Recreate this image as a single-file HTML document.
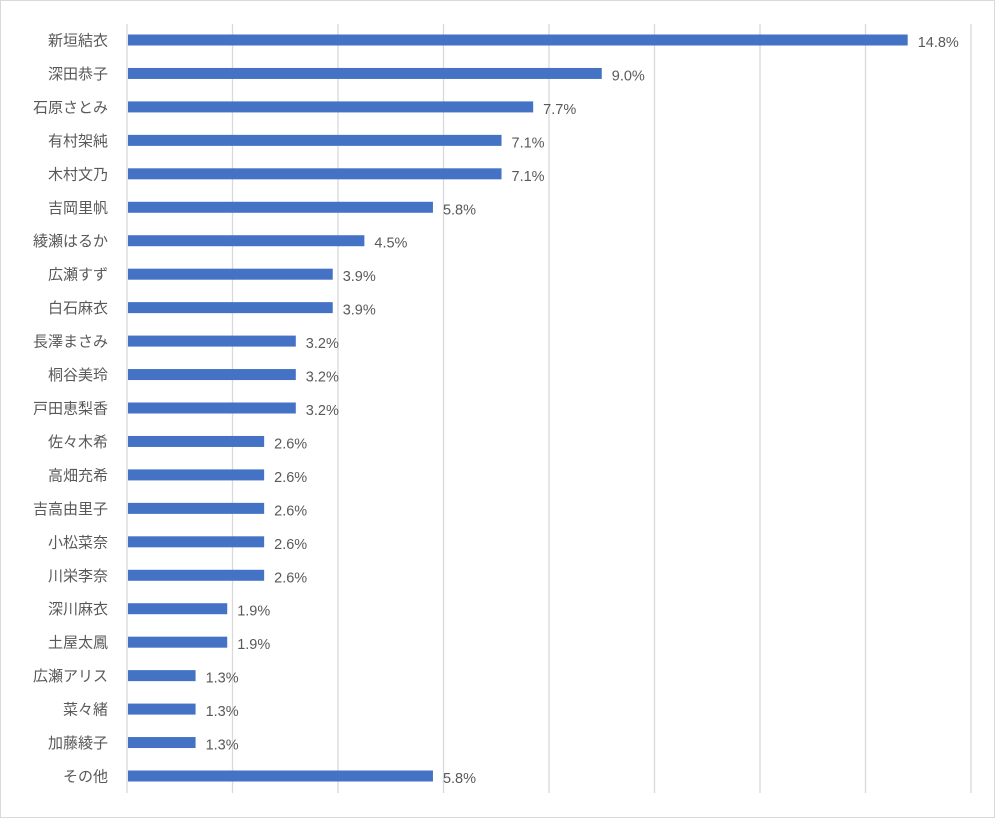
<!DOCTYPE html>
<html><head><meta charset="utf-8"><style>
html,body{margin:0;padding:0;background:#fff}
#wrap{position:relative;width:993px;height:816px;border:1px solid #d9d9d9}
svg text{font-family:"Liberation Sans","Noto Sans CJK JP",sans-serif;fill:#595959}
</style></head><body>
<div id="wrap">
<svg id="chart" width="993" height="816"></svg>
</div>
<script>
const categories=["新垣結衣","深田恭子","石原さとみ","有村架純","木村文乃","吉岡里帆","綾瀬はるか","広瀬すず","白石麻衣","長澤まさみ","桐谷美玲","戸田恵梨香","佐々木希","高畑充希","吉高由里子","小松菜奈","川栄李奈","深川麻衣","土屋太鳳","広瀬アリス","菜々緒","加藤綾子","その他"];
const values=[14.8,9.0,7.7,7.1,7.1,5.8,4.5,3.9,3.9,3.2,3.2,3.2,2.6,2.6,2.6,2.6,2.6,1.9,1.9,1.3,1.3,1.3,5.8];
const ticks=[0,2,4,6,8,10,12,14,16];
const NS="http://www.w3.org/2000/svg";
const svg=document.getElementById('chart');
const x0=126,x1=970,xmax=16,top0=23,bot=792;
const sx=v=>x0+(x1-x0)*v/xmax;
const first=39,last=775;
const step=(last-first)/(categories.length-1);
const sy=i=>first+i*step;
function mk(t,a){const e=document.createElementNS(NS,t);for(const k in a)e.setAttribute(k,a[k]);svg.appendChild(e);return e;}
ticks.forEach(t=>{
  const l=mk('line',{x1:sx(t),x2:sx(t),y1:top0,y2:bot,stroke:'#d9d9d9','stroke-width':1.3});
  
  
});
categories.forEach((c,i)=>{
  const y=sy(i);
  const t=mk('text',{x:107,y:y+5.5,'text-anchor':'end','font-size':15});
  t.textContent=c;
  
  
  const r=mk('rect',{x:sx(0)+1,y:y-5.5,width:sx(values[i])-sx(0)-1,height:11,fill:'#4472c4'});
  
  
  const v=mk('text',{x:sx(values[i])+10,y:y+7,'font-size':14.5});
  v.textContent=values[i].toFixed(1)+'%';
  
  
});
</script>
</body></html>
